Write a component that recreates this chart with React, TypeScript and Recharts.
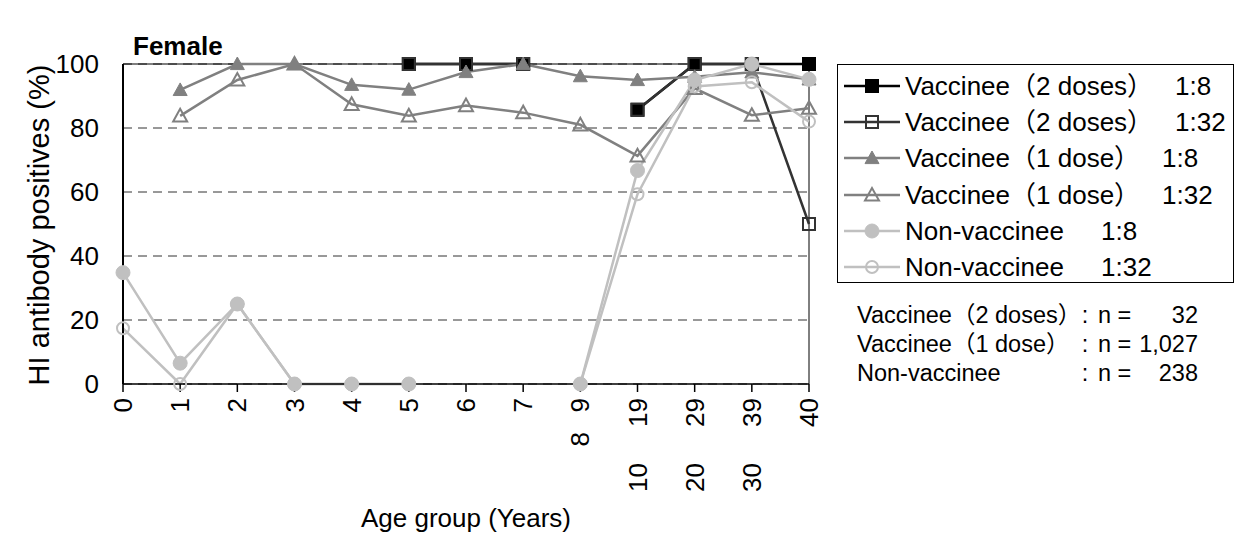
import React from "react";
import { CartesianGrid, Line, LineChart, ReferenceLine, XAxis, YAxis } from "recharts";

const NB = "\u00A0";
const ageGroups = ["0", "1", "2", "3", "4", "5", "6", "7", `8${NB.repeat(2)}\u20099`, `10${NB.repeat(5)}19`, `20${NB.repeat(5)}29`, `30${NB.repeat(5)}39`, "40"];

const twoDoses8 = [null, null, null, null, null, 100, 100, 100, null, 85.7, 100, 100, 100];
const twoDoses32 = [null, null, null, null, null, 100, 100, 100, null, 85.7, 100, 100, 50];
const oneDose8 = [null, 91.9, 100, 100, 93.5, 92, 97.5, 100, 96.2, 95, 96, 97.4, 95.2];
const oneDose32 = [null, 83.8, 95, 100, 87.4, 83.8, 87, 84.8, 81, 71.3, 92.4, 84, 86.2];
const nonVacc8 = [34.8, 6.5, 25, 0, 0, 0, null, null, 0, 66.7, 95, 100, 95.2];
const nonVacc32 = [17.4, 0, 25, 0, 0, 0, null, null, 0, 59.3, 93, 94.3, 82];

const yTicks = [0, 20, 40, 60, 80, 100];

const groupCounts = [
  { label: "Vaccinee（2 doses）", n: "32" },
  { label: "Vaccinee（1 dose）", n: "1,027" },
  { label: "Non-vaccinee", n: "238" },
];

type Shape = "square" | "triangle" | "circle";

const series: { key: string; name: string; ratio: string; ratioX: number; color: string; shape: Shape; filled: boolean; values: (number | null)[] }[] = [
  { key: "v2_8", name: "Vaccinee（2 doses）", ratio: "1:8", ratioX: 1175, color: "#000000", shape: "square", filled: true, values: twoDoses8 },
  { key: "v2_32", name: "Vaccinee（2 doses）", ratio: "1:32", ratioX: 1175, color: "#333333", shape: "square", filled: false, values: twoDoses32 },
  { key: "v1_8", name: "Vaccinee（1 dose）", ratio: "1:8", ratioX: 1162, color: "#808080", shape: "triangle", filled: true, values: oneDose8 },
  { key: "v1_32", name: "Vaccinee（1 dose）", ratio: "1:32", ratioX: 1162, color: "#808080", shape: "triangle", filled: false, values: oneDose32 },
  { key: "nv_8", name: "Non-vaccinee", ratio: "1:8", ratioX: 1101, color: "#C0C0C0", shape: "circle", filled: true, values: nonVacc8 },
  { key: "nv_32", name: "Non-vaccinee", ratio: "1:32", ratioX: 1101, color: "#C0C0C0", shape: "circle", filled: false, values: nonVacc32 },
];

const data = ageGroups.map((age, i) => {
  const row: Record<string, string | number | null> = { age };
  series.forEach((s) => (row[s.key] = s.values[i]));
  return row;
});

const FONT = "'Liberation Sans', Arial, 'Noto Sans CJK JP', sans-serif";
const OFF = 8; // body margin

function Marker({ cx, cy, shape, filled, color, size = 7 }: { cx: number; cy: number; shape: Shape; filled: boolean; color: string; size?: number }) {
  const fill = filled ? color : "none";
  const sw = filled ? 1 : 2;
  if (shape === "square") {
    return <rect x={cx - size + 1} y={cy - size + 1} width={2 * size - 2} height={2 * size - 2} fill={fill} stroke={color} strokeWidth={2} />;
  }
  if (shape === "triangle") {
    const h = size;
    return (
      <polygon
        points={`${cx},${cy - h} ${cx - h},${cy + h * 0.8} ${cx + h},${cy + h * 0.8}`}
        fill={fill}
        stroke={color}
        strokeWidth={sw}
      />
    );
  }
  return <circle cx={cx} cy={cy} r={filled ? size : size - 1} fill={fill} stroke={color} strokeWidth={sw} />;
}

const makeDot = (s: (typeof series)[number]) => (props: any) => {
  const { cx, cy, value, index } = props;
  if (value == null || cy == null || isNaN(cy)) return <g key={`${s.key}-${index}`} />;
  return <Marker key={`${s.key}-${index}`} cx={cx} cy={cy} shape={s.shape} filled={s.filled} color={s.color} />;
};

function AgeTick({ x, y, payload }: any) {
  return (
    <text
      x={x}
      y={y + 4}
      transform={`rotate(-90 ${x} ${y + 4})`}
      textAnchor="end"
      dominantBaseline="central"
      fontSize={26}
      fontFamily={FONT}
      fill="#000"
    >
      {payload.value}
    </text>
  );
}

export default function App() {
  return (
    <div style={{ position: "relative", width: 1226, height: 532, fontFamily: FONT, color: "#000" }}>
      <div style={{ position: "absolute", left: 133 - OFF, top: 46 - OFF, transform: "translateY(-50%)", fontSize: 26, fontWeight: "bold", lineHeight: 1 }}>
        Female
      </div>

      <LineChart width={1226} height={532} data={data} margin={{ top: 56, right: 425, bottom: 46, left: 0 }}>
        <CartesianGrid vertical={false} stroke="#333" strokeDasharray="9 6" />
        <XAxis
          dataKey="age"
          tick={<AgeTick />}
          tickSize={8}
          interval={0}
          height={110}
          axisLine={{ stroke: "#000", strokeWidth: 1.5 }}
          tickLine={{ stroke: "#000", strokeWidth: 1.5 }}
        />
        <YAxis
          domain={[0, 100]}
          ticks={yTicks}
          width={115}
          tickSize={0}
          tickMargin={24}
          tickLine={false}
          axisLine={{ stroke: "#000", strokeWidth: 2 }}
          tick={{ fill: "#000", fontSize: 26, fontFamily: FONT }}
        />
        <ReferenceLine y={100} stroke="#000" strokeWidth={1} />
        <ReferenceLine x="40" stroke="#000" strokeWidth={1} />
        {series.map((s) => (
          <Line
            key={s.key}
            dataKey={s.key}
            stroke={s.color}
            strokeWidth={2.5}
            dot={makeDot(s)}
            activeDot={false}
            isAnimationActive={false}
          />
        ))}
      </LineChart>

      <div
        style={{
          position: "absolute",
          left: 39 - OFF,
          top: 225 - OFF,
          transform: "translate(-50%, -50%) rotate(-90deg)",
          fontSize: 29,
          whiteSpace: "nowrap",
          lineHeight: 1,
        }}
      >
        HI antibody positives (%)
      </div>
      <div
        style={{
          position: "absolute",
          left: 466 - OFF,
          top: 518 - OFF,
          transform: "translate(-50%, -50%)",
          fontSize: 26,
          whiteSpace: "nowrap",
          lineHeight: 1,
        }}
      >
        Age group (Years)
      </div>

      <div
        style={{
          position: "absolute",
          left: 837 - OFF,
          top: 64 - OFF,
          width: 397,
          height: 219,
          border: "1px solid #000",
          boxSizing: "border-box",
        }}
      />
      {series.map((s, i) => {
        const cy = 86 + i * 36.2 - OFF;
        return (
          <React.Fragment key={s.key}>
            <svg style={{ position: "absolute", left: 844 - OFF, top: cy - 10 }} width={56} height={20}>
              <line x1={0} y1={10} x2={56} y2={10} stroke={s.color} strokeWidth={2.5} />
              <Marker cx={28} cy={10} shape={s.shape} filled={s.filled} color={s.color} size={7} />
            </svg>
            <div style={{ position: "absolute", left: 905 - OFF, top: cy, transform: "translateY(-50%)", fontSize: 26, lineHeight: 1, whiteSpace: "nowrap" }}>
              {s.name}
            </div>
            <div style={{ position: "absolute", left: s.ratioX - OFF, top: cy, transform: "translateY(-50%)", fontSize: 26, lineHeight: 1, whiteSpace: "nowrap" }}>
              {s.ratio}
            </div>
          </React.Fragment>
        );
      })}

      {groupCounts.map((g, i) => {
        const cy = 316 + i * 29 - OFF;
        const st: React.CSSProperties = { position: "absolute", top: cy, transform: "translateY(-50%)", fontSize: 23.5, lineHeight: 1, whiteSpace: "nowrap" };
        return (
          <React.Fragment key={g.label}>
            <div style={{ ...st, left: 857 - OFF }}>{g.label}</div>
            <div style={{ ...st, left: 1085 - OFF, transform: "translate(-50%, -50%)" }}>:</div>
            <div style={{ ...st, left: 1098 - OFF }}>n =</div>
            <div style={{ ...st, left: 1130 - OFF, width: 68, textAlign: "right" }}>{g.n}</div>
          </React.Fragment>
        );
      })}
    </div>
  );
}
